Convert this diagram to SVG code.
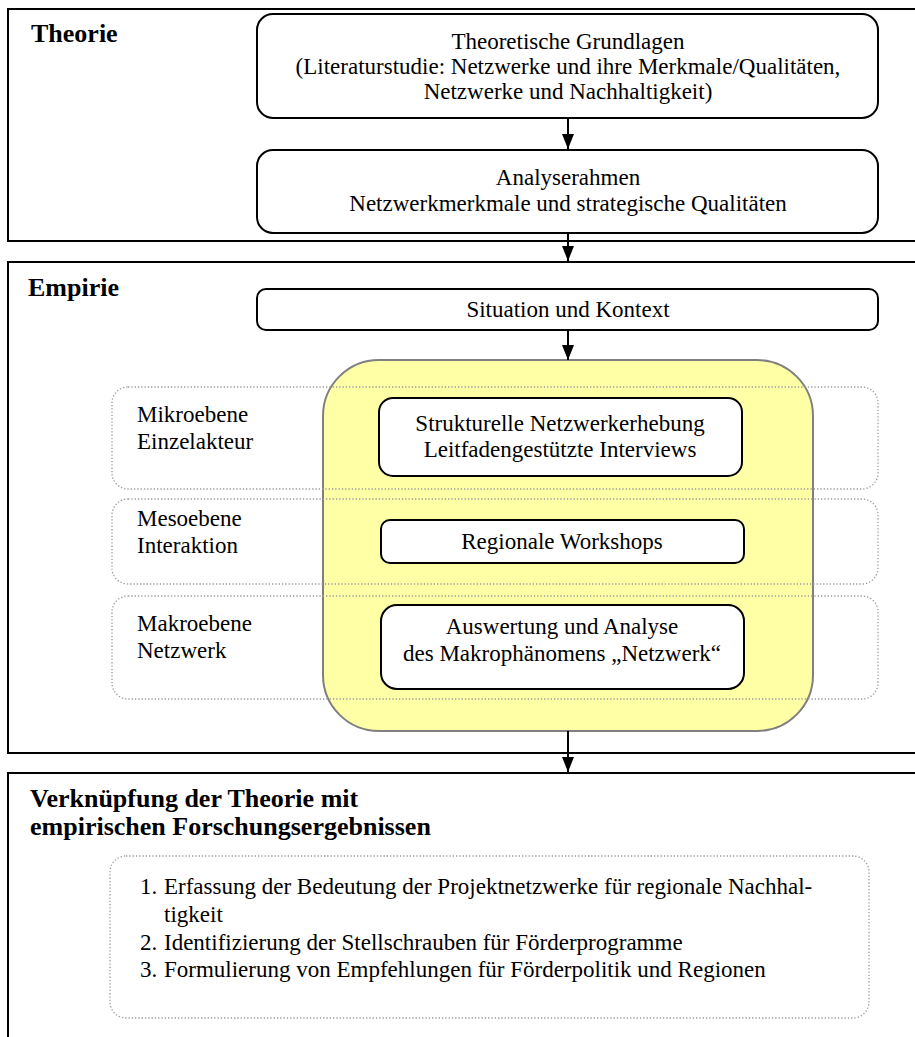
<svg xmlns="http://www.w3.org/2000/svg" width="915" height="1037" viewBox="0 0 915 1037">
  <defs>
    <marker id="arr" viewBox="0 0 15 12" refX="15" refY="6" markerWidth="15" markerHeight="12" markerUnits="userSpaceOnUse" orient="auto">
      <path d="M0,0 L15,6 L0,12 Z" fill="#000"/>
    </marker>
    <style>
      .frame{fill:none;stroke:#000;stroke-width:2}
      .box{fill:#fff;stroke:#000;stroke-width:2}
      .dot{fill:none;stroke:#9a9a9a;stroke-width:1.3;stroke-dasharray:1.3 2}
      .yel{fill:#ffffa6;stroke:#808080;stroke-width:2}
      .head{font-family:"Liberation Serif",serif;font-weight:bold;font-size:26px;fill:#000}
      .t{font-family:"Liberation Serif",serif;font-size:23px;fill:#000}
      .c{text-anchor:middle}
      .conn{stroke:#000;stroke-width:2;fill:none}
    </style>
  </defs>

  <g id="frame-theorie">
    <rect class="frame" x="8" y="9" width="920" height="232"/>
    <text class="head" x="31" y="42">Theorie</text>
  </g>
  <g id="frame-empirie">
    <rect class="frame" x="8" y="262" width="920" height="491"/>
    <text class="head" x="28" y="296">Empirie</text>
  </g>
  <g id="frame-verknuepfung">
    <rect class="frame" x="8" y="773" width="920" height="300"/>
    <text class="head" x="30" y="807">Verknüpfung der Theorie mit</text>
    <text class="head" x="30" y="835">empirischen Forschungsergebnissen</text>
  </g>

  <g id="node-grundlagen">
    <rect class="box" x="257" y="14" width="621" height="104" rx="16"/>
    <text class="t c" x="568" y="49">Theoretische Grundlagen</text>
    <text class="t c" x="568" y="74">(Literaturstudie: Netzwerke und ihre Merkmale/Qualitäten,</text>
    <text class="t c" x="568" y="99">Netzwerke und Nachhaltigkeit)</text>
  </g>
  <g id="node-analyserahmen">
    <rect class="box" x="257" y="150" width="621" height="83" rx="16"/>
    <text class="t c" x="568" y="185">Analyserahmen</text>
    <text class="t c" x="568" y="211">Netzwerkmerkmale und strategische Qualitäten</text>
  </g>
  <g id="node-situation">
    <rect class="box" x="257" y="289" width="621" height="41" rx="9"/>
    <text class="t c" x="568" y="317">Situation und Kontext</text>
  </g>

  <g id="node-methoden">
    <rect class="yel" x="323" y="360" width="490" height="371" rx="56"/>
  </g>

  <g id="level-mikro">
    <rect class="dot" x="112" y="387" width="766" height="102" rx="16"/>
    <text class="t" x="137" y="422">Mikroebene</text>
    <text class="t" x="137" y="449">Einzelakteur</text>
  </g>
  <g id="level-meso">
    <rect class="dot" x="112" y="499" width="766" height="85" rx="16"/>
    <text class="t" x="137" y="526">Mesoebene</text>
    <text class="t" x="137" y="553">Interaktion</text>
  </g>
  <g id="level-makro">
    <rect class="dot" x="112" y="596" width="766" height="103" rx="16"/>
    <text class="t" x="137" y="631">Makroebene</text>
    <text class="t" x="137" y="658">Netzwerk</text>
  </g>

  <g id="node-erhebung">
    <rect class="box" x="379" y="398" width="363" height="78" rx="14"/>
    <text class="t c" x="560" y="431">Strukturelle Netzwerkerhebung</text>
    <text class="t c" x="560" y="457">Leitfadengestützte Interviews</text>
  </g>
  <g id="node-workshops">
    <rect class="box" x="381" y="520" width="363" height="43" rx="9"/>
    <text class="t c" x="562" y="549">Regionale Workshops</text>
  </g>
  <g id="node-auswertung">
    <rect class="box" x="381" y="605" width="363" height="84" rx="16"/>
    <text class="t c" x="562" y="634">Auswertung und Analyse</text>
    <text class="t c" x="562" y="661">des Makrophänomens „Netzwerk“</text>
  </g>

  <g id="node-ergebnisse">
    <rect class="dot" x="110" y="856" width="759" height="162" rx="16"/>
    <text class="t" x="140" y="894">1.</text>
    <text class="t" x="164" y="894">Erfassung der Bedeutung der Projektnetzwerke für regionale Nachhal-</text>
    <text class="t" x="164" y="922">tigkeit</text>
    <text class="t" x="140" y="950">2.</text>
    <text class="t" x="164" y="950">Identifizierung der Stellschrauben für Förderprogramme</text>
    <text class="t" x="140" y="977">3.</text>
    <text class="t" x="164" y="977">Formulierung von Empfehlungen für Förderpolitik und Regionen</text>
  </g>

  <g id="connectors">
    <line class="conn" x1="568" y1="118" x2="568" y2="149" marker-end="url(#arr)"/>
    <line class="conn" x1="568" y1="233" x2="568" y2="261" marker-end="url(#arr)"/>
    <line class="conn" x1="568" y1="330" x2="568" y2="360" marker-end="url(#arr)"/>
    <line class="conn" x1="568" y1="731" x2="568" y2="772" marker-end="url(#arr)"/>
  </g>
</svg>
